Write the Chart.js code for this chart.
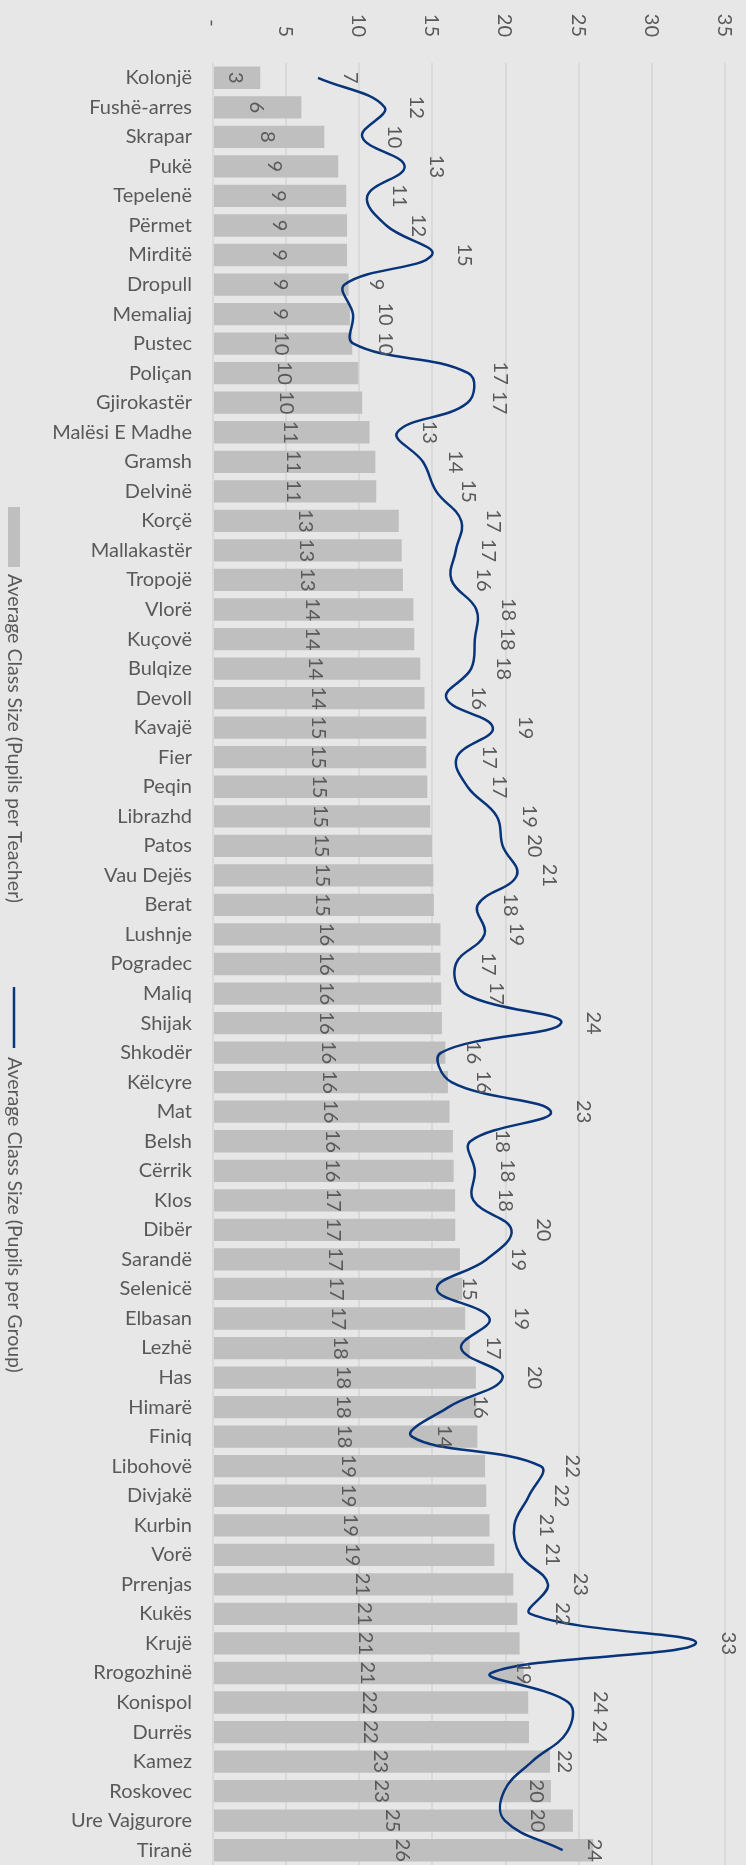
<!DOCTYPE html>
<html>
<head>
<meta charset="utf-8">
<title>Average Class Size by Municipality</title>
<script src="https://cdn.jsdelivr.net/npm/chart.js@4"></script>
<style>
    html, body { margin: 0; padding: 0; background: #e7e7e7; }
    #wrap { width: 746px; height: 1865px; }
</style>
</head>
<body>
<div id="wrap"><canvas id="classChart" width="746" height="1865"></canvas></div>
<script>
const municipalities = ["Kolonjë", "Fushë-arres", "Skrapar", "Pukë", "Tepelenë", "Përmet", "Mirditë", "Dropull",
    "Memaliaj", "Pustec", "Poliçan", "Gjirokastër", "Malësi E Madhe", "Gramsh", "Delvinë", "Korçë", "Mallakastër",
    "Tropojë", "Vlorë", "Kuçovë", "Bulqize", "Devoll", "Kavajë", "Fier", "Peqin", "Librazhd", "Patos", "Vau Dejës",
    "Berat", "Lushnje", "Pogradec", "Maliq", "Shijak", "Shkodër", "Këlcyre", "Mat", "Belsh", "Cërrik", "Klos", "Dibër",
    "Sarandë", "Selenicë", "Elbasan", "Lezhë", "Has", "Himarë", "Finiq", "Libohovë", "Divjakë", "Kurbin", "Vorë",
    "Prrenjas", "Kukës", "Krujë", "Rrogozhinë", "Konispol", "Durrës", "Kamez", "Roskovec", "Ure Vajgurore", "Tiranë"];

// pupils per teacher (bars)
const pupilsPerTeacher = [3.23, 6.04, 7.61, 8.56, 9.11, 9.16, 9.16, 9.27, 9.36, 9.52, 9.93, 10.2, 10.7, 11.1, 11.16,
    12.7, 12.9, 12.98, 13.7, 13.76, 14.17, 14.46, 14.58, 14.58, 14.65, 14.85, 14.97, 15.06, 15.1, 15.55, 15.55, 15.6,
    15.65, 15.88, 16.06, 16.17, 16.4, 16.45, 16.55, 16.56, 16.88, 17.04, 17.24, 17.55, 17.97, 18.0, 18.07, 18.6, 18.68,
    18.9, 19.23, 20.53, 20.8, 20.96, 21.24, 21.55, 21.6, 23.04, 23.1, 24.6, 26.0];

// pupils per group (line)
const pupilsPerGroup = [7.18, 11.73, 10.2, 13.1, 10.55, 11.85, 14.97, 9.0, 9.57, 9.6, 17.45, 17.4, 12.6, 14.35, 15.26,
    16.97, 16.6, 16.3, 18.0, 17.9, 17.65, 15.95, 19.13, 16.67, 17.4, 19.4, 19.8, 20.77, 18.1, 18.56, 16.6, 17.2, 23.8,
    15.6, 16.3, 23.1, 17.6, 17.9, 17.8, 20.4, 18.7, 15.3, 18.9, 16.96, 19.8, 16.1, 13.6, 22.4, 21.6, 20.6, 21.0, 22.9,
    21.7, 33.0, 19.03, 24.3, 24.2, 21.8, 19.9, 19.95, 23.9];

const xTickLabels = ["-  ", "5", "10", "15", "20", "25", "30", "35"];
const legendLabels = ["Average Class Size (Pupils per Teacher)", "Average Class Size (Pupils per Group)"];

const textColor = "#595959";
const barColor = "#bfbfbf";
const lineColor = "#08347a";
const FONT = "20px Lato";
const capHalf = 7.2; // half the digit height, to centre rotated text

function drawRotated(ctx, text, x, y, align) {
    ctx.save();
    ctx.translate(x, y);
    ctx.rotate(Math.PI / 2);
    ctx.textAlign = align;
    ctx.textBaseline = "alphabetic";
    ctx.fillText(text, 0, 0);
    ctx.restore();
}

const rotatedText = {
    id: "rotatedText",
    afterDatasetsDraw(chart) {
        const ctx = chart.ctx;
        const x = chart.scales.x;
        ctx.save();
        ctx.font = FONT;
        ctx.fillStyle = textColor;

        // value axis labels along the top
        x.ticks.forEach((t, i) => {
            drawRotated(ctx, xTickLabels[i], x.getPixelForValue(t.value) - capHalf, 37, "right");
        });

        // bar labels, centred in each bar
        chart.getDatasetMeta(1).data.forEach((bar, i) => {
            const v = pupilsPerTeacher[i];
            drawRotated(ctx, String(Math.round(v)), x.getPixelForValue(v / 2) - capHalf, bar.y, "center");
        });

        // line labels, to the right of each point
        chart.getDatasetMeta(0).data.forEach((pt, i) => {
            drawRotated(ctx, String(Math.round(pupilsPerGroup[i])), pt.x + 33 - capHalf, pt.y, "center");
        });

        // legend down the left side
        ctx.fillStyle = barColor;
        ctx.fillRect(8, 507, 12, 60);
        ctx.fillStyle = textColor;
        ctx.font = "19.5px Lato";
        drawRotated(ctx, legendLabels[0], 8, 574, "left");

        ctx.strokeStyle = lineColor;
        ctx.lineWidth = 2.5;
        ctx.beginPath();
        ctx.moveTo(14, 987);
        ctx.lineTo(14, 1048);
        ctx.stroke();
        drawRotated(ctx, legendLabels[1], 8, 1057, "left");

        ctx.restore();
    }
};

Chart.defaults.font.family = "Lato";
Chart.defaults.font.size = 20;
Chart.defaults.color = textColor;

const ctx = document.getElementById("classChart").getContext("2d");
new Chart(ctx, {
    type: "bar",
    data: {
        labels: municipalities,
        datasets: [
            {
                type: "line",
                label: legendLabels[1],
                data: pupilsPerGroup,
                indexAxis: "y",
                borderColor: lineColor,
                borderWidth: 2.5,
                pointRadius: 0,
                tension: 0.4,
                fill: false,
                order: 0
            },
            {
                type: "bar",
                label: legendLabels[0],
                data: pupilsPerTeacher,
                backgroundColor: barColor,
                barPercentage: 0.755,
                categoryPercentage: 1,
                order: 1
            }
        ]
    },
    options: {
        indexAxis: "y",
        responsive: false,
        devicePixelRatio: 1,
        animation: false,
        layout: { padding: { left: 0, right: 21, top: 0, bottom: 0 } },
        scales: {
            x: {
                position: "top",
                min: 0,
                max: 35,
                ticks: { display: false, stepSize: 5 },
                grid: { color: "#d9d9d9", lineWidth: 2, drawTicks: false },
                border: { display: false },
                afterFit: (scale) => { scale.height = 63; }
            },
            y: {
                ticks: { color: textColor, padding: 21, autoSkip: false, font: { size: 20 } },
                grid: { display: false, drawTicks: false },
                border: { display: false },
                afterFit: (scale) => {
                    scale.width = 213;
                    scale.paddingTop = 0;
                    scale.paddingBottom = 0;
                }
            }
        },
        plugins: {
            legend: { display: false },
            tooltip: { enabled: false }
        }
    },
    plugins: [rotatedText]
});
</script>
</body>
</html>
